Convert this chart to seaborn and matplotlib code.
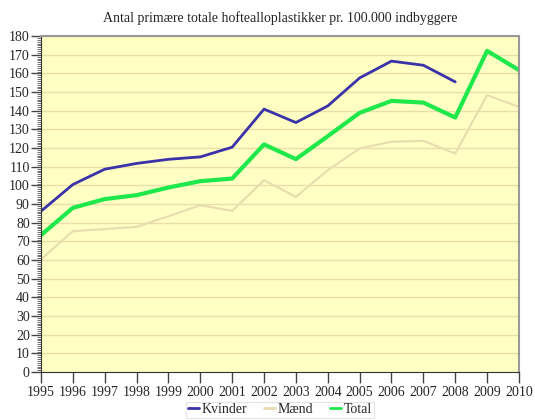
import matplotlib
matplotlib.use("Agg")
import matplotlib.pyplot as plt
import numpy as np
import pandas as pd
import seaborn as sns
from matplotlib.ticker import MultipleLocator

years = list(range(1995, 2011))
kvinder = [86.2, 100.5, 108.7, 111.8, 114.0, 115.3, 120.5, 140.9, 133.7, 142.6,
           157.6, 166.6, 164.4, 155.5, np.nan, np.nan]
maend = [60.4, 75.5, 76.6, 77.8, 83.5, 89.4, 86.4, 102.8, 93.9, 108.2,
         119.8, 123.4, 123.9, 117.1, 148.4, 142.1]
total = [73.4, 88.0, 92.7, 94.8, 98.9, 102.3, 103.7, 122.0, 114.1, 126.4,
         138.9, 145.3, 144.4, 136.4, 172.1, 161.8]

series = {"Kvinder": kvinder, "Mænd": maend, "Total": total}
colors = {"Kvinder": "#3a32a8", "Mænd": "#e6dcae", "Total": "#1ee84a"}
widths = {"Kvinder": 2.0, "Mænd": 1.5, "Total": 3.0}

df = pd.DataFrame(
    [(y, name, v) for name, vals in series.items() for y, v in zip(years, vals)],
    columns=["year", "serie", "value"],
)

sns.set_style("ticks")
plt.rcParams["font.family"] = ["Liberation Serif", "DejaVu Serif"]

fig = plt.figure(figsize=(5.35, 4.2), dpi=100)
ax = fig.add_axes([0.0766, 0.114, 0.8934, 0.800])
ax.set_facecolor("#ffffc4")

for name in series:
    sub = df[df["serie"] == name].dropna()
    sns.lineplot(data=sub, x="year", y="value", color=colors[name],
                 linewidth=widths[name], ax=ax, label=name)

ax.set_xlim(1995, 2010)
ax.set_ylim(0, 180)
ax.set_xticks(years)
ax.yaxis.set_major_locator(MultipleLocator(10))
ax.yaxis.set_minor_locator(MultipleLocator(1))
ax.grid(axis="y", which="major", color="#e8dfa8", linewidth=1.0)
ax.set_axisbelow(True)
ax.set_xlabel("")
ax.set_ylabel("")

ax.tick_params(axis="x", which="major", length=8, width=1, labelsize=10, pad=2, color="#444444")
ax.tick_params(axis="y", which="major", length=7, width=1, labelsize=10, pad=1, color="#444444")
ax.tick_params(axis="y", which="minor", length=3, width=0.6, color="#555555")
for s in ["left", "bottom"]:
    ax.spines[s].set_color("#333333")
for s in ["top", "right"]:
    ax.spines[s].set_color("#999999")
    ax.spines[s].set_linewidth(1.5)

ax.set_title("Antal primære totale hoftealloplastikker pr. 100.000 indbyggere",
             fontsize=10, pad=10)

leg = ax.legend(loc="upper center", bbox_to_anchor=(0.5, -0.068), ncol=3,
                handlelength=0.8, handletextpad=0.2, columnspacing=1.2,
                frameon=True, fancybox=False, edgecolor="#dddddd",
                fontsize=10, borderpad=0.1)
leg.get_frame().set_linewidth(0.8)
for line in leg.get_lines():
    line.set_linewidth(2.0)

fig.savefig("out.png", dpi=100)
